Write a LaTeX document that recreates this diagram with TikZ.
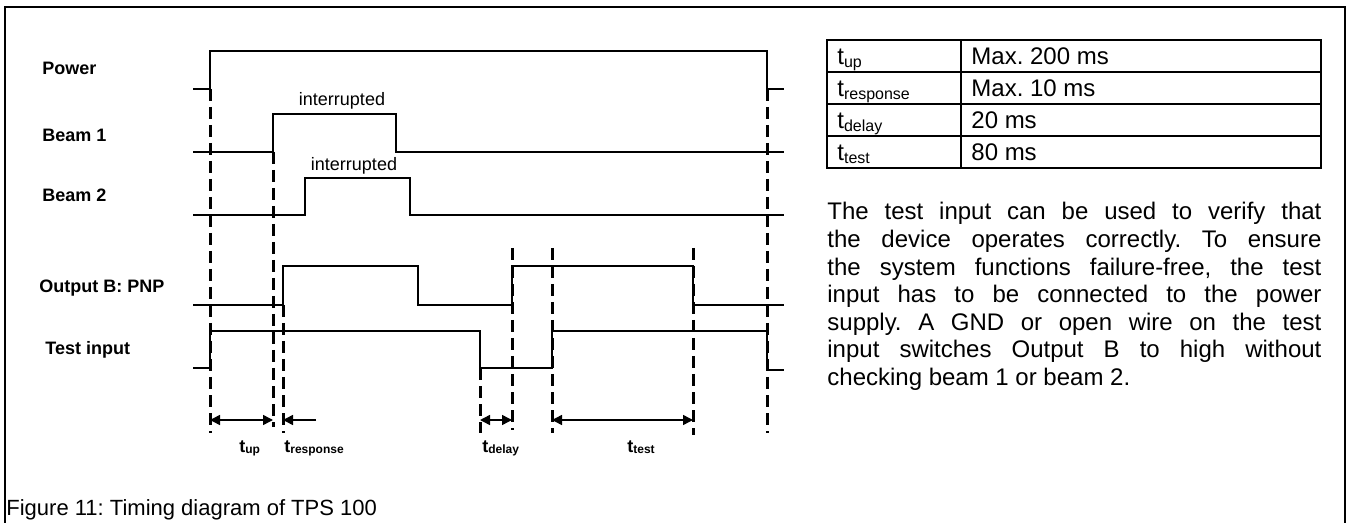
\documentclass[tikz,border=0pt]{standalone}
\usepackage{fontspec}
\setmainfont{Liberation Sans}
\usetikzlibrary{arrows.meta}
\frenchspacing
\newcommand{\subT}[1]{t\raisebox{-1.2pt}{\fontsize{8}{9.6}\selectfont #1}}
\newcommand{\subL}[1]{t\raisebox{-0.8pt}{\fontsize{6}{7.2}\selectfont\bfseries #1}}
\begin{document}
\begin{tikzpicture}[x=0.5pt,y=-0.5pt,
  frame/.style={line width=1pt},
  sig/.style={line width=0.75pt},
  guide/.style={line width=1.5pt, dash pattern=on 6pt off 3pt},
  dimarrow/.style={line width=0.75pt, {Triangle[length=5pt,width=5pt]}-{Triangle[length=5pt,width=5pt]}},
  onearrow/.style={line width=0.75pt, -{Triangle[length=5pt,width=5pt]}},
  lab/.style={anchor=base west, inner sep=0pt, font=\fontsize{9}{10.8}\selectfont\bfseries},
  note/.style={anchor=base, inner sep=0pt, font=\fontsize{9}{10.8}\selectfont},
  tlab/.style={anchor=base west, inner sep=0pt, font=\fontsize{9}{10.8}\selectfont\bfseries},
  cell/.style={anchor=base west, inner sep=0pt, font=\fontsize{12}{14.4}\selectfont},
  tab/.style={line width=1pt},
]
\useasboundingbox (0,0) rectangle (1348,523);
% outer frame
\draw[frame] (5,523) -- (5,7) -- (1345,7) -- (1345,523);

% signal labels
\node[lab] (power) at (42,75) {Power};
\node[lab] (beam1) at (42,142) {Beam 1};
\node[lab] (beam2) at (42,202) {Beam 2};
\node[lab] (outb) at (39,293) {Output B: PNP};
\node[lab] (test) at (45,355) {Test input};
\node[note] (int1) at (342,106) {interrupted};
\node[note] (int2) at (354,171) {interrupted};

% waveforms
\draw[sig] (193,89) -- (210,89) -- (210,51) -- (767,51) -- (767,89) -- (784,89);
\draw[sig] (193,152) -- (273,152) -- (273,114) -- (396,114) -- (396,152) -- (784,152);
\draw[sig] (193,215) -- (305,215) -- (305,178) -- (410,178) -- (410,215) -- (784,215);
\draw[sig] (193,305) -- (283,305) -- (283,266) -- (418,266) -- (418,305) -- (512,305)
  -- (512,266) -- (693,266) -- (693,305) -- (784,305);
\draw[sig] (193,368) -- (210,368) -- (210,331) -- (480,331) -- (480,368) -- (552,368)
  -- (552,331) -- (767,331) -- (767,370) -- (784,370);

% dashed guide lines
\coordinate (g1t) at (210,89);  \coordinate (g1b) at (210,433);
\coordinate (g2t) at (273,152); \coordinate (g2b) at (273,427);
\coordinate (g3t) at (283,305); \coordinate (g3b) at (283,433);
\coordinate (g4t) at (480,368); \coordinate (g4b) at (480,433);
\coordinate (g5t) at (512,248); \coordinate (g5b) at (512,430);
\coordinate (g6t) at (552,248); \coordinate (g6b) at (552,433);
\coordinate (g7t) at (693,248); \coordinate (g7b) at (693,435);
\coordinate (g8t) at (767,89);  \coordinate (g8b) at (767,433);
\foreach \g in {1,...,8} \draw[guide] (g\g t) -- (g\g b);

% dimension arrows
\coordinate (a1) at (210,420); \coordinate (a2) at (273,420);
\coordinate (a3) at (316,420); \coordinate (a4) at (283,420);
\coordinate (a5) at (480,420); \coordinate (a6) at (512,420);
\coordinate (a7) at (552,420); \coordinate (a8) at (693,420);
\draw[dimarrow] (a1) -- (a2);
\draw[onearrow] (a3) -- (a4);
\draw[dimarrow] (a5) -- (a6);
\draw[dimarrow] (a7) -- (a8);

\node[tlab] (tup) at (239,452) {\subL{up}};
\node[tlab] (tresp) at (284,452) {\subL{response}};
\node[tlab] (tdel) at (482,452) {\subL{delay}};
\node[tlab] (ttest) at (627,452) {\subL{test}};

% table
\draw[tab] (827,40) rectangle (1321,168);
\draw[tab] (827,72) -- (1321,72);
\draw[tab] (827,104) -- (1321,104);
\draw[tab] (827,136) -- (1321,136);
\draw[tab] (961,40) -- (961,168);
\node[cell] (c11) at (837,65) {\subT{up}};
\node[cell] (c12) at (971,65) {Max. 200 ms};
\node[cell] (c21) at (837,97) {\subT{response}};
\node[cell] (c22) at (971,97) {Max. 10 ms};
\node[cell] (c31) at (837,129) {\subT{delay}};
\node[cell] (c32) at (971,129) {20 ms};
\node[cell] (c41) at (837,161) {\subT{test}};
\node[cell] (c42) at (971,161) {80 ms};

% paragraph
\node[anchor=base west, inner sep=0pt] (para) at (827,220) {\parbox[t]{247pt}{\fontsize{12}{13.8}\selectfont
\makebox[247pt][s]{The test input can be used to verify that}\\
\makebox[247pt][s]{the device operates correctly. To ensure}\\
\makebox[247pt][s]{the system functions failure-free, the test}\\
\makebox[247pt][s]{input has to be connected to the power}\\
\makebox[247pt][s]{supply. A GND or open wire on the test}\\
\makebox[247pt][s]{input switches Output B to high without}\\
checking beam 1 or beam 2.}};

% caption
\node[anchor=base west, inner sep=0pt, font=\fontsize{11}{13.2}\selectfont] (cap) at (6,515) {Figure 11: Timing diagram of TPS 100};
\end{tikzpicture}
\end{document}
